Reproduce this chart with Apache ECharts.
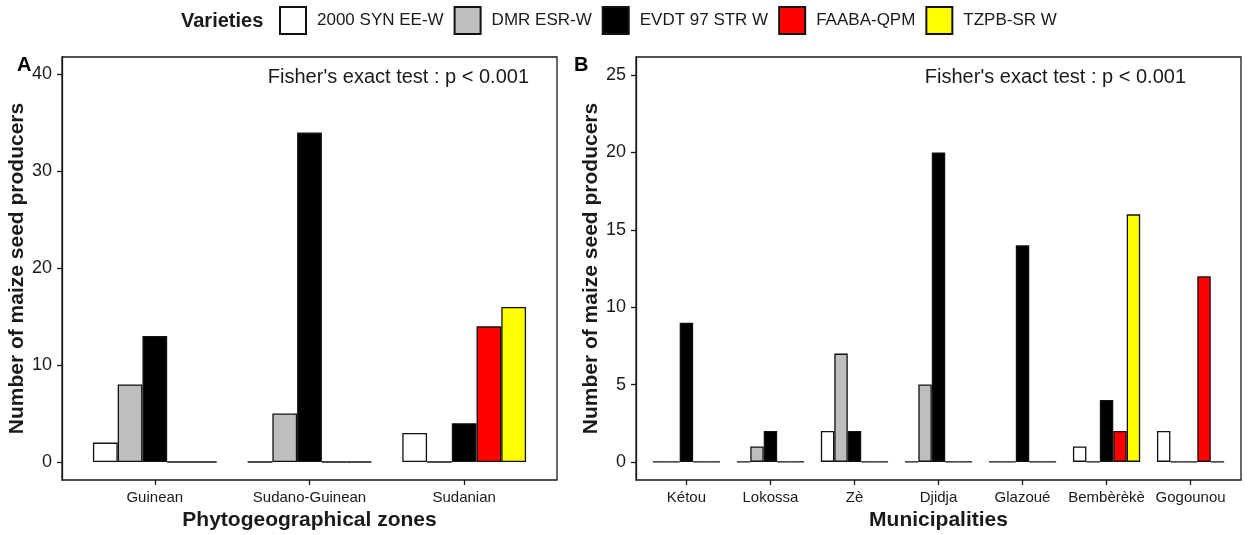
<!DOCTYPE html>
<html>
<head>
<meta charset="utf-8">
<script src="https://cdn.jsdelivr.net/npm/echarts@6/dist/echarts.min.js"></script>
<style>
  html, body { margin: 0; padding: 0; background: #fff; }
  #main { width: 1248px; height: 535px; }
</style>
</head>
<body>
<div id="main"></div>
<script>
  // 数据
  const varieties = ["2000 SYN EE-W", "DMR ESR-W", "EVDT 97 STR W", "FAABA-QPM", "TZPB-SR W"];
  const colors = ["#ffffff", "#bebebe", "#000000", "#ff0000", "#ffff00"];

  // A: zones
  const zones = ["Guinean", "Sudano-Guinean", "Sudanian"];
  const zoneSyn = [2, 0, 3];
  const zoneDmr = [8, 5, 0];
  const zoneEvdt = [13, 34, 4];
  const zoneFaaba = [0, 0, 14];
  const zoneTzpb = [0, 0, 16];
  const zoneTicks = [0, 10, 20, 30, 40];

  // B: municipalities
  const towns = ["Kétou", "Lokossa", "Zè", "Djidja", "Glazoué", "Bembèrèkè", "Gogounou"];
  const townSyn = [0, 0, 2, 0, 0, 1, 2];
  const townDmr = [0, 1, 7, 5, 0, 0, 0];
  const townEvdt = [9, 2, 2, 20, 14, 4, 0];
  const townFaaba = [0, 0, 0, 0, 0, 2, 12];
  const townTzpb = [0, 0, 0, 0, 0, 16, 0];
  const townTicks = [0, 5, 10, 15, 20, 25];

  const font = "'Liberation Sans', Arial, sans-serif";
  const ink = "#1a1a1a";

  function makeSeries(lists, axisIndex) {
    return lists.map(function(data, i) {
      return {
        type: "bar",
        name: varieties[i],
        xAxisIndex: axisIndex,
        yAxisIndex: axisIndex,
        data: data,
        barWidth: "16%",
        barGap: "0%",
        itemStyle: { color: colors[i], borderColor: "#111", borderWidth: 1.3 },
        emphasis: { disabled: true }
      };
    });
  }

  // 边框 grid 和柱子 grid（ggplot 的 0.6 扩展）
  const padA = (557 - 62) / 3.2 * 0.1;
  const padB = (1241 - 636) / 7.2 * 0.1;

  function hiddenX(idx) {
    return { type: "value", gridIndex: idx, show: false };
  }

  function hiddenY(idx, min, max) {
    return { type: "value", gridIndex: idx, min: min, max: max, show: false };
  }

  function catAxis(idx, cats, name) {
    return {
      type: "category",
      gridIndex: idx,
      data: cats,
      axisLine: { show: false, onZero: false },
      axisTick: { show: true, alignWithLabel: true, length: 5, lineStyle: { color: ink, width: 1.3 } },
      axisLabel: { color: ink, fontSize: 15, fontFamily: font, margin: 10, interval: 0 },
      name: name,
      nameLocation: "middle",
      nameGap: 29,
      nameTextStyle: { color: ink, fontSize: 21, fontWeight: "bold", fontFamily: font }
    };
  }

  function valAxis(idx, min, max, ticks, gap) {
    return {
      type: "value",
      gridIndex: idx,
      min: min,
      max: max,
      splitLine: { show: false },
      axisLine: { show: true, onZero: false, lineStyle: { color: ink, width: 1.3 } },
      axisTick: { show: true, length: 5, customValues: ticks, lineStyle: { color: ink, width: 1.3 } },
      axisLabel: { color: ink, fontSize: 18, fontFamily: font, margin: 10, customValues: ticks },
      name: "Number of maize seed producers",
      nameLocation: "middle",
      nameGap: gap,
      nameTextStyle: { color: ink, fontSize: 21, fontWeight: "bold", fontFamily: font }
    };
  }

  const minA = -1.86, maxA = 41.8;
  const minB = -1.17, maxB = 26.17;

  const option = {
    animation: false,
    textStyle: { fontFamily: font },
    title: [
      { text: "Varieties", left: 181, top: 11, padding: 0, textStyle: { fontSize: 20, fontWeight: "bold", color: ink, fontFamily: font } },
      { text: "A", left: 17, top: 55, padding: 0, textStyle: { fontSize: 20, fontWeight: "bold", color: "#000", fontFamily: font } },
      { text: "B", left: 574, top: 55, padding: 0, textStyle: { fontSize: 20, fontWeight: "bold", color: "#000", fontFamily: font } },
      { text: "Fisher's exact test : p < 0.001", right: 719, top: 67, padding: 0, textStyle: { fontSize: 20, fontWeight: "normal", color: ink, fontFamily: font } },
      { text: "Fisher's exact test : p < 0.001", right: 62, top: 67, padding: 0, textStyle: { fontSize: 20, fontWeight: "normal", color: ink, fontFamily: font } }
    ],
    legend: {
      data: varieties,
      left: 279,
      top: 6,
      padding: 0,
      icon: "rect",
      itemWidth: 26,
      itemHeight: 27,
      itemGap: 10,
      selectedMode: false,
      textStyle: { fontSize: 17, color: ink, fontFamily: font, padding: [0, 0, 0, 6] }
    },
    grid: [
      { left: 62, right: 1248 - 557, top: 57, bottom: 55, show: true, borderColor: ink, borderWidth: 1.3, backgroundColor: "transparent", outerBoundsMode: "none" },
      { left: 62 + padA, right: 1248 - 557 + padA, top: 57, bottom: 55, outerBoundsMode: "none" },
      { left: 636, right: 1248 - 1241, top: 57, bottom: 55, show: true, borderColor: ink, borderWidth: 1.3, backgroundColor: "transparent", outerBoundsMode: "none" },
      { left: 636 + padB, right: 1248 - 1241 + padB, top: 57, bottom: 55, outerBoundsMode: "none" }
    ],
    xAxis: [
      hiddenX(0),
      catAxis(1, zones, "Phytogeographical zones"),
      hiddenX(2),
      catAxis(3, towns, "Municipalities")
    ],
    yAxis: [
      valAxis(0, minA, maxA, zoneTicks, 33),
      hiddenY(1, minA, maxA),
      valAxis(2, minB, maxB, townTicks, 32),
      hiddenY(3, minB, maxB)
    ],
    series: makeSeries([zoneSyn, zoneDmr, zoneEvdt, zoneFaaba, zoneTzpb], 1)
      .concat(makeSeries([townSyn, townDmr, townEvdt, townFaaba, townTzpb], 3))
  };

  const chart = echarts.init(document.getElementById("main"));
  chart.setOption(option);
</script>
</body>
</html>
